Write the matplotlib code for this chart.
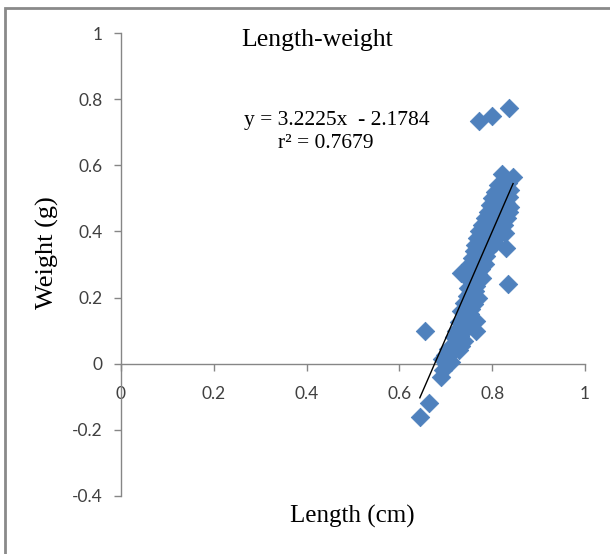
import matplotlib
matplotlib.use("Agg")
import matplotlib.pyplot as plt
import numpy as np
from matplotlib.patches import Rectangle

# ---- data ----
length_cm = [
    0.836, 0.800, 0.772, 0.655, 0.644, 0.664, 0.834, 0.830, 0.765, 0.766,
    0.690, 0.695, 0.700, 0.692, 0.705, 0.698, 0.710, 0.715, 0.705, 0.720,
    0.725, 0.718, 0.730, 0.735, 0.722, 0.732, 0.740, 0.728, 0.738, 0.745,
    0.733, 0.742, 0.750, 0.745, 0.755, 0.740, 0.750, 0.758, 0.745, 0.752,
    0.762, 0.748, 0.758, 0.766, 0.733, 0.745, 0.755, 0.765, 0.750, 0.760,
    0.770, 0.775, 0.752, 0.762, 0.772, 0.780, 0.757, 0.767, 0.777, 0.787,
    0.760, 0.770, 0.780, 0.790, 0.762, 0.772, 0.782, 0.795, 0.805, 0.768,
    0.778, 0.790, 0.800, 0.812, 0.772, 0.782, 0.795, 0.808, 0.820, 0.828,
    0.778, 0.790, 0.800, 0.812, 0.825, 0.784, 0.795, 0.806, 0.818, 0.832,
    0.790, 0.800, 0.812, 0.824, 0.836, 0.795, 0.806, 0.818, 0.830, 0.838,
    0.800, 0.812, 0.824, 0.836, 0.805, 0.816, 0.828, 0.838, 0.812, 0.822,
    0.834, 0.821, 0.845, 0.830, 0.720, 0.728, 0.702, 0.712, 0.770, 0.778,
    0.785, 0.760, 0.752, 0.745, 0.740, 0.732,
]
weight_g = [
    0.773, 0.749, 0.734, 0.100, -0.160, -0.118, 0.242, 0.350, 0.128, 0.100,
    -0.040, -0.020, 0.000, 0.015, 0.010, 0.025, 0.030, 0.050, 0.045, 0.060,
    0.075, 0.080, 0.085, 0.070, 0.100, 0.110, 0.100, 0.125, 0.130, 0.120,
    0.160, 0.150, 0.145, 0.170, 0.165, 0.185, 0.190, 0.200, 0.205, 0.215,
    0.220, 0.230, 0.240, 0.235, 0.275, 0.260, 0.255, 0.250, 0.280, 0.275,
    0.270, 0.285, 0.300, 0.295, 0.300, 0.305, 0.320, 0.315, 0.320, 0.325,
    0.340, 0.335, 0.340, 0.345, 0.360, 0.355, 0.360, 0.360, 0.365, 0.380,
    0.375, 0.380, 0.385, 0.385, 0.400, 0.395, 0.400, 0.405, 0.400, 0.395,
    0.420, 0.415, 0.420, 0.425, 0.420, 0.440, 0.435, 0.440, 0.445, 0.440,
    0.460, 0.455, 0.460, 0.465, 0.460, 0.480, 0.475, 0.480, 0.485, 0.475,
    0.500, 0.495, 0.500, 0.505, 0.520, 0.515, 0.520, 0.525, 0.540, 0.535,
    0.545, 0.575, 0.565, 0.555, 0.057, 0.040, 0.020, 0.005, 0.200, 0.260,
    0.300, 0.180, 0.150, 0.125, 0.070, 0.055,
]
slope = 3.2225
intercept = -2.1784
r_squared = 0.7679
x_ticks = [0, 0.2, 0.4, 0.6, 0.8, 1]
x_tick_labels = ["0", "0.2", "0.4", "0.6", "0.8", "1"]
y_ticks = [-0.4, -0.2, 0, 0.2, 0.4, 0.6, 0.8, 1]
y_tick_labels = ["-0.4", "-0.2", "0", "0.2", "0.4", "0.6", "0.8", "1"]

# ---- figure ----
fig = plt.figure(figsize=(6.10, 5.54), dpi=100)
fig.patch.set_facecolor("white")
fig.patches.append(Rectangle((5 / 610, -0.05), 1.2, 1 - 8 / 554 + 0.05,
                             transform=fig.transFigure, fill=False,
                             edgecolor="#8a8a8a", linewidth=2.0))

ax = fig.add_axes([121 / 610, 1 - 496 / 554, (585 - 121) / 610, (496 - 33) / 554])
ax.set_xlim(0, 1)
ax.set_ylim(-0.4, 1)

ax.scatter(length_cm, weight_g, marker="D", s=88, color="#4F81BD",
           edgecolors="#4F81BD", linewidths=0.6, zorder=3)

xl = np.array([min(length_cm), max(length_cm)])
ax.plot(xl, slope * xl + intercept, color="black", linewidth=1.0, zorder=4)

for s in ["top", "right"]:
    ax.spines[s].set_visible(False)
ax.spines["bottom"].set_position(("data", 0))
for s in ["left", "bottom"]:
    ax.spines[s].set_color("#868686")
    ax.spines[s].set_linewidth(1.0)

ax.set_xticks(x_ticks)
ax.set_xticklabels(x_tick_labels)
ax.set_yticks(y_ticks)
ax.set_yticklabels(y_tick_labels)
for lab in ax.get_xticklabels() + ax.get_yticklabels():
    lab.set_fontfamily("Lato")
    lab.set_fontsize(12.5)
ax.tick_params(axis="x", direction="out", length=5, width=1, color="#868686",
               pad=11, labelcolor="#404040")
ax.tick_params(axis="y", direction="out", length=5, width=1, color="#868686",
               pad=8, labelcolor="#404040")

serif = "Liberation Serif"
ax.text(0.422, 0.979, "Length-weight", family=serif, fontsize=18.5,
        ha="center", va="center")
ax.text(0.466, 0.734, f"y = {slope}x  - {abs(intercept)}", family=serif,
        fontsize=15.5, ha="center", va="center")
ax.text(0.442, 0.665, f"r\u00b2 = {r_squared}", family=serif,
        fontsize=15.5, ha="center", va="center")

fig.text(352 / 610, 1 - 516 / 554, "Length (cm)", family=serif, fontsize=18,
         ha="center", va="center")
fig.text(47 / 610, 1 - 253 / 554, "Weight (g)", family=serif, fontsize=19,
         ha="center", va="center", rotation=90)

fig.savefig("out.png", dpi=100, facecolor="white")
